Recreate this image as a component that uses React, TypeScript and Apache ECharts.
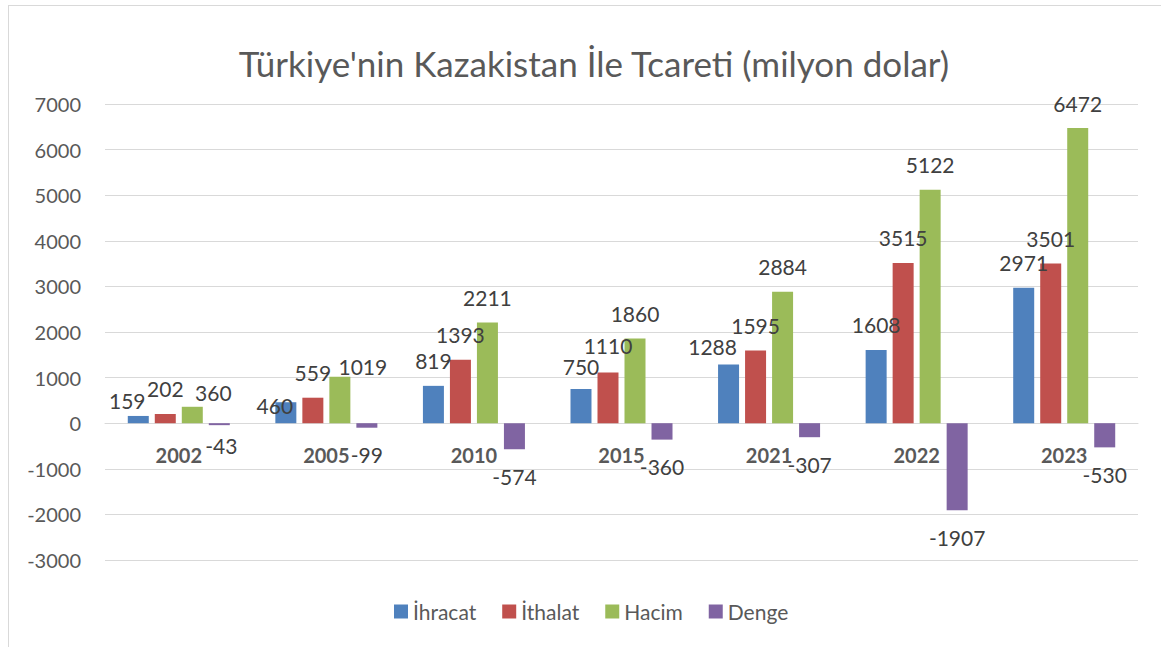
import React, { useEffect, useRef } from "react";
import * as echarts from "echarts";

const categories = ["2002", "2005", "2010", "2015", "2021", "2022", "2023"];
const ihracat = [159, 460, 819, 750, 1288, 1608, 2971];
const ithalat = [202, 559, 1393, 1110, 1595, 3515, 3501];
const hacim = [360, 1019, 2211, 1860, 2884, 5122, 6472];
const denge = [-43, -99, -574, -360, -307, -1907, -530];
const seriesNames = ["İhracat", "İthalat", "Hacim", "Denge"];
const colors = ["#4f81bd", "#c0504d", "#9bbb59", "#8064a2"];
const yMin = -3000;
const yMax = 7000;
const yStep = 1000;

// label nudges (style only): [series index, category index, dx, dy]
const labelNudges: [number, number, number, number][] = [
  [0, 0, -11, 10],
  [0, 1, -11, 28],
  [0, 3, 0, 2],
  [0, 4, -16, 7],
  [1, 3, 0, -2],
  [2, 0, 21, 11],
  [2, 1, 23, 15],
  [3, 0, 2, -7],
];

const FONT = "Lato, 'Open Sans', sans-serif";
const GRID_TOP = 104;
const GRID_BOTTOM = 87;
const H = 647;

export default function App() {
  const ref = useRef<HTMLDivElement>(null);
  useEffect(() => {
    if (!ref.current) return;
    const chart = echarts.init(ref.current, undefined, { renderer: "svg" });
    const all = [ihracat, ithalat, hacim, denge];
    const plotH = H - GRID_TOP - GRID_BOTTOM;
    const zeroFromBottom = (plotH * (0 - yMin)) / (yMax - yMin);
    const series = all.map((vals, si) => ({
      name: seriesNames[si],
      type: "bar",
      barWidth: 21,
      barGap: "28.6%",
      itemStyle: { color: colors[si] },
      label: {
        show: true,
        position: si === 3 ? "bottom" : "top",
        distance: si === 3 ? 17 : 15,
        fontFamily: FONT,
        fontSize: 21,
        lineHeight: 20,
        color: "#404040",
      },
      data: vals.map((v, ci) => {
        const n = labelNudges.find((x) => x[0] === si && x[1] === ci);
        return n ? { value: v, label: { offset: [n[2], n[3]] } } : { value: v };
      }),
    }));
    chart.setOption({
      animation: false,
      backgroundColor: "#ffffff",
      title: {
        text: "Türkiye'nin Kazakistan İle Tcareti (milyon dolar)",
        left: 589,
        textAlign: "center",
        top: 40,
        textStyle: {
          fontFamily: FONT,
          fontSize: 35,
          fontWeight: "normal",
          color: "#595959",
        },
      },
      legend: {
        data: seriesNames,
        left: 389,
        top: 596,
        itemWidth: 14,
        itemHeight: 14,
        itemGap: 26,
        icon: "rect",
        textStyle: { fontFamily: FONT, fontSize: 21, color: "#595959" },
      },
      grid: { left: 105, right: 24, top: GRID_TOP, bottom: GRID_BOTTOM },
      xAxis: {
        type: "category",
        data: categories,
        offset: -zeroFromBottom,
        axisLine: { onZero: false, lineStyle: { color: "#d9d9d9", width: 1 } },
        axisTick: { show: false },
        axisLabel: {
          fontFamily: FONT,
          fontSize: 20,
          fontWeight: "bold",
          color: "#595959",
          margin: 22,
        },
      },
      yAxis: {
        type: "value",
        min: yMin,
        max: yMax,
        interval: yStep,
        axisLine: { show: false },
        axisTick: { show: false },
        splitLine: { lineStyle: { color: "#d9d9d9", width: 1 } },
        axisLabel: {
          fontFamily: FONT,
          fontSize: 20,
          color: "#595959",
          margin: 24,
          formatter: (v: number) => String(v),
        },
      },
      series,
    });
    return () => chart.dispose();
  }, []);
  return (
    <div style={{ position: "absolute", left: 0, top: 0, width: 1162, height: 647, background: "#fff" }}>
      <div ref={ref} style={{ position: "absolute", left: 0, top: 0, width: 1162, height: 647 }} />
      <div
        style={{
          position: "absolute",
          left: 8,
          top: 5,
          width: 1152,
          height: 650,
          borderLeft: "1px solid #d9d9d9",
          borderTop: "1px solid #d9d9d9",
          pointerEvents: "none",
        }}
      />
    </div>
  );
}
